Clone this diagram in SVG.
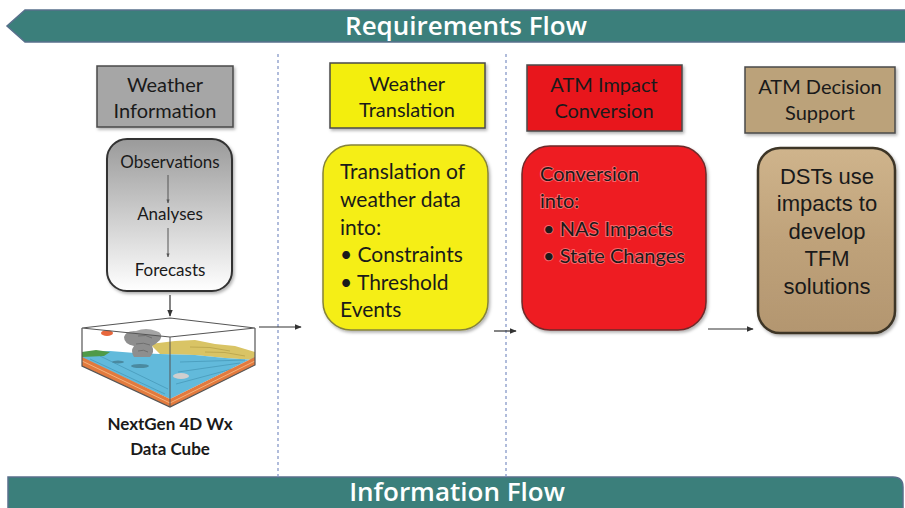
<svg xmlns="http://www.w3.org/2000/svg" width="905" height="508" viewBox="0 0 905 508">
  <defs>
    <linearGradient id="grayFill" x1="0" y1="0" x2="0" y2="1">
      <stop offset="0" stop-color="#9a9a9a"/>
      <stop offset="1" stop-color="#ffffff"/>
    </linearGradient>
    <linearGradient id="tanFill" x1="0" y1="0" x2="0" y2="1">
      <stop offset="0" stop-color="#cfb48c"/>
      <stop offset="0.5" stop-color="#bfa27a"/>
      <stop offset="1" stop-color="#b39670"/>
    </linearGradient>
    <filter id="shadow" x="-10%" y="-10%" width="130%" height="130%">
      <feDropShadow dx="1.5" dy="2" stdDeviation="1.5" flood-color="#000" flood-opacity="0.3"/>
    </filter>
    <marker id="arrow" viewBox="0 0 10 10" refX="9" refY="5" markerWidth="6" markerHeight="6" orient="auto">
      <path d="M0,1 L10,5 L0,9 z" fill="#333"/>
    </marker>
    <marker id="arrowSmall" viewBox="0 0 10 10" refX="9" refY="5" markerWidth="4" markerHeight="4" orient="auto">
      <path d="M0,1 L10,5 L0,9 z" fill="#555"/>
    </marker>
  </defs>
  <style>
    .banner { fill: #3b7f7b; stroke: #58708c; stroke-width: 1.5; }
    .bannerText { font-family: "Open Sans", "Noto Sans", sans-serif; font-weight: 600; font-size: 26px; fill: #ffffff; text-anchor: middle; }
    .divider { stroke: #7d90c4; stroke-width: 1.2; stroke-dasharray: 3 3; fill: none; }
    .head { stroke: #4a4a4a; stroke-width: 1.5; filter: url(#shadow); }
    .body { filter: url(#shadow); }
    .cal { font-family: Lato, "Open Sans", sans-serif; fill: #1a1a1a; }
    .hdr { font-size: 20px; text-anchor: middle; }
    .txt { font-size: 21px; }
    .ari { font-family: "Liberation Sans", Arial, sans-serif; font-size: 22px; fill: #1a1a1a; text-anchor: middle; }
    .conn { stroke: #333; stroke-width: 1.2; fill: none; }
    .halo { paint-order: stroke; stroke: #ff9a9a; stroke-width: 2; stroke-opacity: 0.6; }
  </style>

  <rect width="905" height="508" fill="#ffffff"/>

  <!-- banners -->
  <g id="requirements-flow">
    <polygon class="banner" points="25,10 906,10 906,42 25,42 7,26"/>
    <text class="bannerText" x="466" y="35">Requirements Flow</text>
  </g>
  <g id="information-flow">
    <path class="banner" d="M8,477 H893 Q903,477 903,487 V509 H8 Z"/>
    <text class="bannerText" x="457" y="501">Information Flow</text>
  </g>

  <!-- column dividers -->
  <g id="dividers">
    <line class="divider" x1="278" y1="54" x2="278" y2="477"/>
    <line class="divider" x1="506" y1="54" x2="506" y2="477"/>
  </g>

  <!-- weather information column -->
  <g id="weather-information">
    <rect class="head" x="97" y="66" width="136" height="61" fill="#a6a6a6"/>
    <text class="cal hdr" x="165" y="92">Weather</text>
    <text class="cal hdr" x="165" y="118">Information</text>
  </g>
  <g id="weather-stages">
    <rect class="body" x="107" y="139" width="125" height="152" rx="20" fill="url(#grayFill)" stroke="#333" stroke-width="2"/>
    <text class="cal" x="170" y="168" font-size="17" text-anchor="middle">Observations</text>
    <text class="cal" x="170" y="220" font-size="17" text-anchor="middle">Analyses</text>
    <text class="cal" x="170" y="276" font-size="17" text-anchor="middle">Forecasts</text>
    <line x1="168" y1="175" x2="168" y2="203" stroke="#555" stroke-width="1" marker-end="url(#arrowSmall)"/>
    <line x1="168" y1="228" x2="168" y2="257" stroke="#555" stroke-width="1" marker-end="url(#arrowSmall)"/>
  </g>

  <g id="data-cube">
    <!-- side faces -->
    <polygon points="82,328 170,337 170,407 82,366" fill="#ffffff"/>
    <polygon points="170,337 255,328 255,365 170,407" fill="#ffffff"/>
    <!-- land on the right -->
    <polygon points="150,344 175,341 195,340 215,344 235,346 255,352 255,360 225,358 195,355 160,354" fill="#d9c465"/>
    <path d="M190,347 Q210,346 230,351 M205,352 Q225,351 245,356" stroke="#b7a24a" stroke-width="0.8" fill="none"/>
    <!-- water -->
    <polygon points="82,352 110,351 135,353 160,354 195,355 225,358 255,360 255,357 170,399 82,358" fill="#62badb"/>
    <path d="M90,359 L165,394 M100,356 L168,389 M180,362 L245,360 M178,372 L240,363 M176,384 L232,369" stroke="#4495b5" stroke-width="0.7" fill="none"/>
    <ellipse cx="181" cy="376" rx="8" ry="3" fill="#cfcfcf"/>
    <ellipse cx="140" cy="366" rx="9" ry="2" fill="#4a8aa0"/>
    <ellipse cx="118" cy="362" rx="6" ry="1.5" fill="#4a8aa0"/>
    <!-- shoreline greenery -->
    <polygon points="82,352 96,350 110,352 104,356 82,357" fill="#4f9a48"/>
    <!-- storm cloud -->
    <path d="M124,337 Q126,330 136,331 Q146,327 156,331 Q164,333 160,340 Q156,344 152,346 Q155,352 150,357 L134,357 Q130,351 134,346 Q124,344 124,337 Z" fill="#8e8e8e"/>
    <path d="M138,336 Q146,334 152,338 M136,344 Q144,342 150,345 M138,351 Q144,349 148,352" stroke="#6f6f6f" stroke-width="1" fill="none"/>
    <!-- sun -->
    <ellipse cx="107" cy="333" rx="6" ry="3" fill="#e8673c"/>
    <!-- rock strata -->
    <polygon points="82,357 170,399 170,407 82,366" fill="#e27a3e"/>
    <polygon points="255,357 170,399 170,407 255,365" fill="#e27a3e"/>
    <path d="M82,361 L170,403 L255,361" stroke="#f3b27c" stroke-width="1" fill="none"/>
    <!-- outline -->
    <polygon points="170,318 82,328 170,337 255,328" fill="#ffffff" fill-opacity="0.2" stroke="#555" stroke-width="1.2"/>
    <polyline points="82,328 82,366 170,407 255,365 255,328" fill="none" stroke="#555" stroke-width="1.2"/>
    <line x1="170" y1="337" x2="170" y2="407" stroke="#555" stroke-width="1"/>
    <text class="cal" x="170" y="430" font-size="17" font-weight="bold" text-anchor="middle">NextGen 4D Wx</text>
    <text class="cal" x="170" y="455" font-size="17" font-weight="bold" text-anchor="middle">Data Cube</text>
  </g>

  <!-- weather translation column -->
  <g id="weather-translation">
    <rect class="head" x="330" y="63" width="155" height="65" fill="#f3ee0c"/>
    <text class="cal hdr" x="407" y="91">Weather</text>
    <text class="cal hdr" x="407" y="117">Translation</text>
  </g>
  <g id="translation-detail">
    <rect class="body" x="323" y="145" width="165" height="185" rx="28" fill="#f5ee14" stroke="#85833a" stroke-width="1.5"/>
    <text class="cal txt" x="340" y="179">Translation of</text>
    <text class="cal txt" x="340" y="207">weather data</text>
    <text class="cal txt" x="340" y="235">into:</text>
    <text class="cal txt" x="340" y="262">• Constraints</text>
    <text class="cal txt" x="340" y="290">• Threshold</text>
    <text class="cal txt" x="340" y="317">Events</text>
  </g>

  <!-- ATM impact conversion column -->
  <g id="atm-impact-conversion">
    <rect class="head" x="527" y="65" width="155" height="66" fill="#e8161e"/>
    <text class="cal hdr" x="604" y="92">ATM Impact</text>
    <text class="cal hdr" x="604" y="118">Conversion</text>
  </g>
  <g id="conversion-detail">
    <rect class="body" x="522" y="146" width="184" height="184" rx="28" fill="#ee1c24" stroke="#6e2a2a" stroke-width="1.5"/>
    <text class="cal halo" x="540" y="181" font-size="20">Conversion</text>
    <text class="cal halo" x="540" y="208" font-size="20">into:</text>
    <text class="cal halo" x="543" y="236" font-size="20">• NAS Impacts</text>
    <text class="cal halo" x="543" y="263" font-size="20">• State Changes</text>
  </g>

  <!-- ATM decision support column -->
  <g id="atm-decision-support">
    <rect class="head" x="745" y="67" width="150" height="66" fill="#bba27a"/>
    <text class="cal hdr" x="820" y="94">ATM Decision</text>
    <text class="cal hdr" x="820" y="120">Support</text>
  </g>
  <g id="decision-detail">
    <rect class="body" x="758" y="148" width="137" height="185" rx="22" fill="url(#tanFill)" stroke="#3e3628" stroke-width="2.5"/>
    <text class="ari" x="827" y="184">DSTs use</text>
    <text class="ari" x="827" y="211">impacts to</text>
    <text class="ari" x="827" y="239">develop</text>
    <text class="ari" x="827" y="266">TFM</text>
    <text class="ari" x="827" y="294">solutions</text>
  </g>

  <!-- connectors -->
  <g id="connectors">
    <line class="conn" x1="170" y1="295" x2="170" y2="316" stroke-width="1.6" marker-end="url(#arrow)"/>
    <line class="conn" x1="259" y1="327" x2="301" y2="327" marker-end="url(#arrow)"/>
    <line class="conn" x1="494" y1="331" x2="516" y2="331" marker-end="url(#arrow)"/>
    <line class="conn" x1="708" y1="329" x2="753" y2="329" marker-end="url(#arrow)"/>
  </g>
</svg>
